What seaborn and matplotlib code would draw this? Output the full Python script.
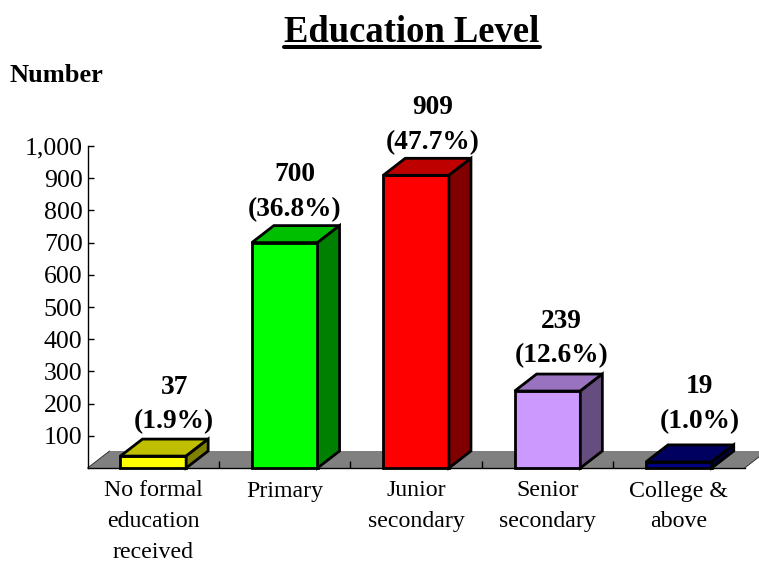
import matplotlib
matplotlib.use("Agg")
import matplotlib.pyplot as plt
import numpy as np
import pandas as pd
import seaborn as sns
from matplotlib.colors import to_rgb
from matplotlib.lines import Line2D
from matplotlib.patches import Polygon

categories = ["No formal\neducation\nreceived", "Primary", "Junior\nsecondary",
              "Senior\nsecondary", "College &\nabove"]
counts = [37, 700, 909, 239, 19]
percents = ["(1.9%)", "(36.8%)", "(47.7%)", "(12.6%)", "(1.0%)"]
colors = ["#FFFF00", "#00FF00", "#FF0000", "#CC99FF", "#000080"]
yticks = [100, 200, 300, 400, 500, 600, 700, 800, 900, 1000]

# label nudges from the bar centre / back edge, in pixels
label_dx = [21, 10, 17, 14, 21]
label_dy = [17, 16, 16, 18, 23]

W, H = 759, 563
DEPTH_X = 22 / 131.4   # in category units
DEPTH_Y = 17 / 0.322   # in data units
PX = 0.72              # points per pixel at dpi 100
EDGE = 2.0

sns.set_style("white")
plt.rcParams["font.family"] = ["Liberation Serif", "DejaVu Serif"]
plt.rcParams["text.color"] = "black"
plt.rcParams["xtick.labelcolor"] = "black"
plt.rcParams["ytick.labelcolor"] = "black"

fig = plt.figure(figsize=(W / 100, H / 100), dpi=100)
ax = fig.add_axes([87.6 / W, (H - 468) / H, 657 / W, 322 / H])

df = pd.DataFrame({"cat": categories, "n": counts})
sns.barplot(data=df, x="cat", y="n", hue="cat", palette=colors, width=0.5,
            legend=False, saturation=1, edgecolor="black", linewidth=EDGE,
            zorder=3, ax=ax)
bars = list(ax.patches)

ax.set_xlim(-0.5, 4.5)
ax.set_ylim(0, 1000)
ax.set_xlabel("")
ax.set_ylabel("")
ax.set_axisbelow(False)

# grey floor behind the bars
floor = Polygon([(-0.5, 0), (-0.5 + DEPTH_X, DEPTH_Y), (4.5 + DEPTH_X, DEPTH_Y), (4.5, 0)],
                facecolor="#808080", edgecolor="none", zorder=1, clip_on=False)
ax.add_patch(floor)
for x in (-0.5, 4.5):
    ax.plot([x, x + DEPTH_X], [0, DEPTH_Y], color="#333333", lw=0.7, zorder=1.5, clip_on=False)

for bar, color, n, pct, dx, dy in zip(bars, colors, counts, percents, label_dx, label_dy):
    bar.set_clip_on(False)
    bar.set_joinstyle("miter")
    x0 = bar.get_x()
    x1 = x0 + bar.get_width()
    h = bar.get_height()
    base = np.array(to_rgb(color))
    top = Polygon([(x0, h), (x0 + DEPTH_X, h + DEPTH_Y), (x1 + DEPTH_X, h + DEPTH_Y), (x1, h)],
                  facecolor=base * 0.75, edgecolor="black", lw=EDGE, zorder=3,
                  joinstyle="miter", clip_on=False)
    side = Polygon([(x1, h), (x1 + DEPTH_X, h + DEPTH_Y), (x1 + DEPTH_X, DEPTH_Y), (x1, 0)],
                   facecolor=base * 0.5, edgecolor="black", lw=EDGE, zorder=3,
                   joinstyle="miter", clip_on=False)
    ax.add_patch(top)
    ax.add_patch(side)
    cx = (x0 + x1) / 2
    ax.annotate(pct, (cx, h + DEPTH_Y), xytext=(dx * PX, dy * PX), textcoords="offset points",
                ha="center", va="center", fontsize=19.7, fontweight="bold",
                annotation_clip=False)
    ax.annotate(str(n), (cx, h + DEPTH_Y), xytext=(dx * PX, (dy + 35) * PX), textcoords="offset points",
                ha="center", va="center", fontsize=19.7, fontweight="bold",
                annotation_clip=False)

sns.despine(ax=ax)
ax.spines["left"].set_linewidth(1)
ax.spines["bottom"].set_linewidth(1)
ax.spines["left"].set_color("black")
ax.spines["bottom"].set_color("black")

ax.set_yticks(yticks)
ax.set_yticklabels([f"{v:,}" for v in yticks])
ax.tick_params(axis="y", direction="in", length=6 * PX, width=1, color="black",
               left=True, labelsize=18.6, labelcolor="black", pad=5 * PX)
ax.set_xticks(range(len(categories)))
ax.set_xticklabels(categories, fontsize=17.2, linespacing=1.6, color="black")
ax.tick_params(axis="x", which="major", length=0, pad=12.5 * PX)
ax.set_xticks(np.arange(0.5, 4), minor=True)
ax.tick_params(axis="x", which="minor", direction="in", length=7 * PX, width=1,
               color="black", bottom=True)

fig.text(9 / W, 1 - 75.5 / H, "Number", fontsize=19, fontweight="bold", ha="left", va="center")
title = fig.text(412 / W, 1 - 32 / H, "Education Level", fontsize=26.4, fontweight="bold",
                 ha="center", va="center")

# title underline follows the text width
fig.canvas.draw()
box = title.get_window_extent()
fig.add_artist(Line2D([box.x0 / W, box.x1 / W], [1 - 47 / H, 1 - 47 / H],
                      color="black", lw=4 * PX, transform=fig.transFigure))

fig.savefig("out.png", dpi=100)
